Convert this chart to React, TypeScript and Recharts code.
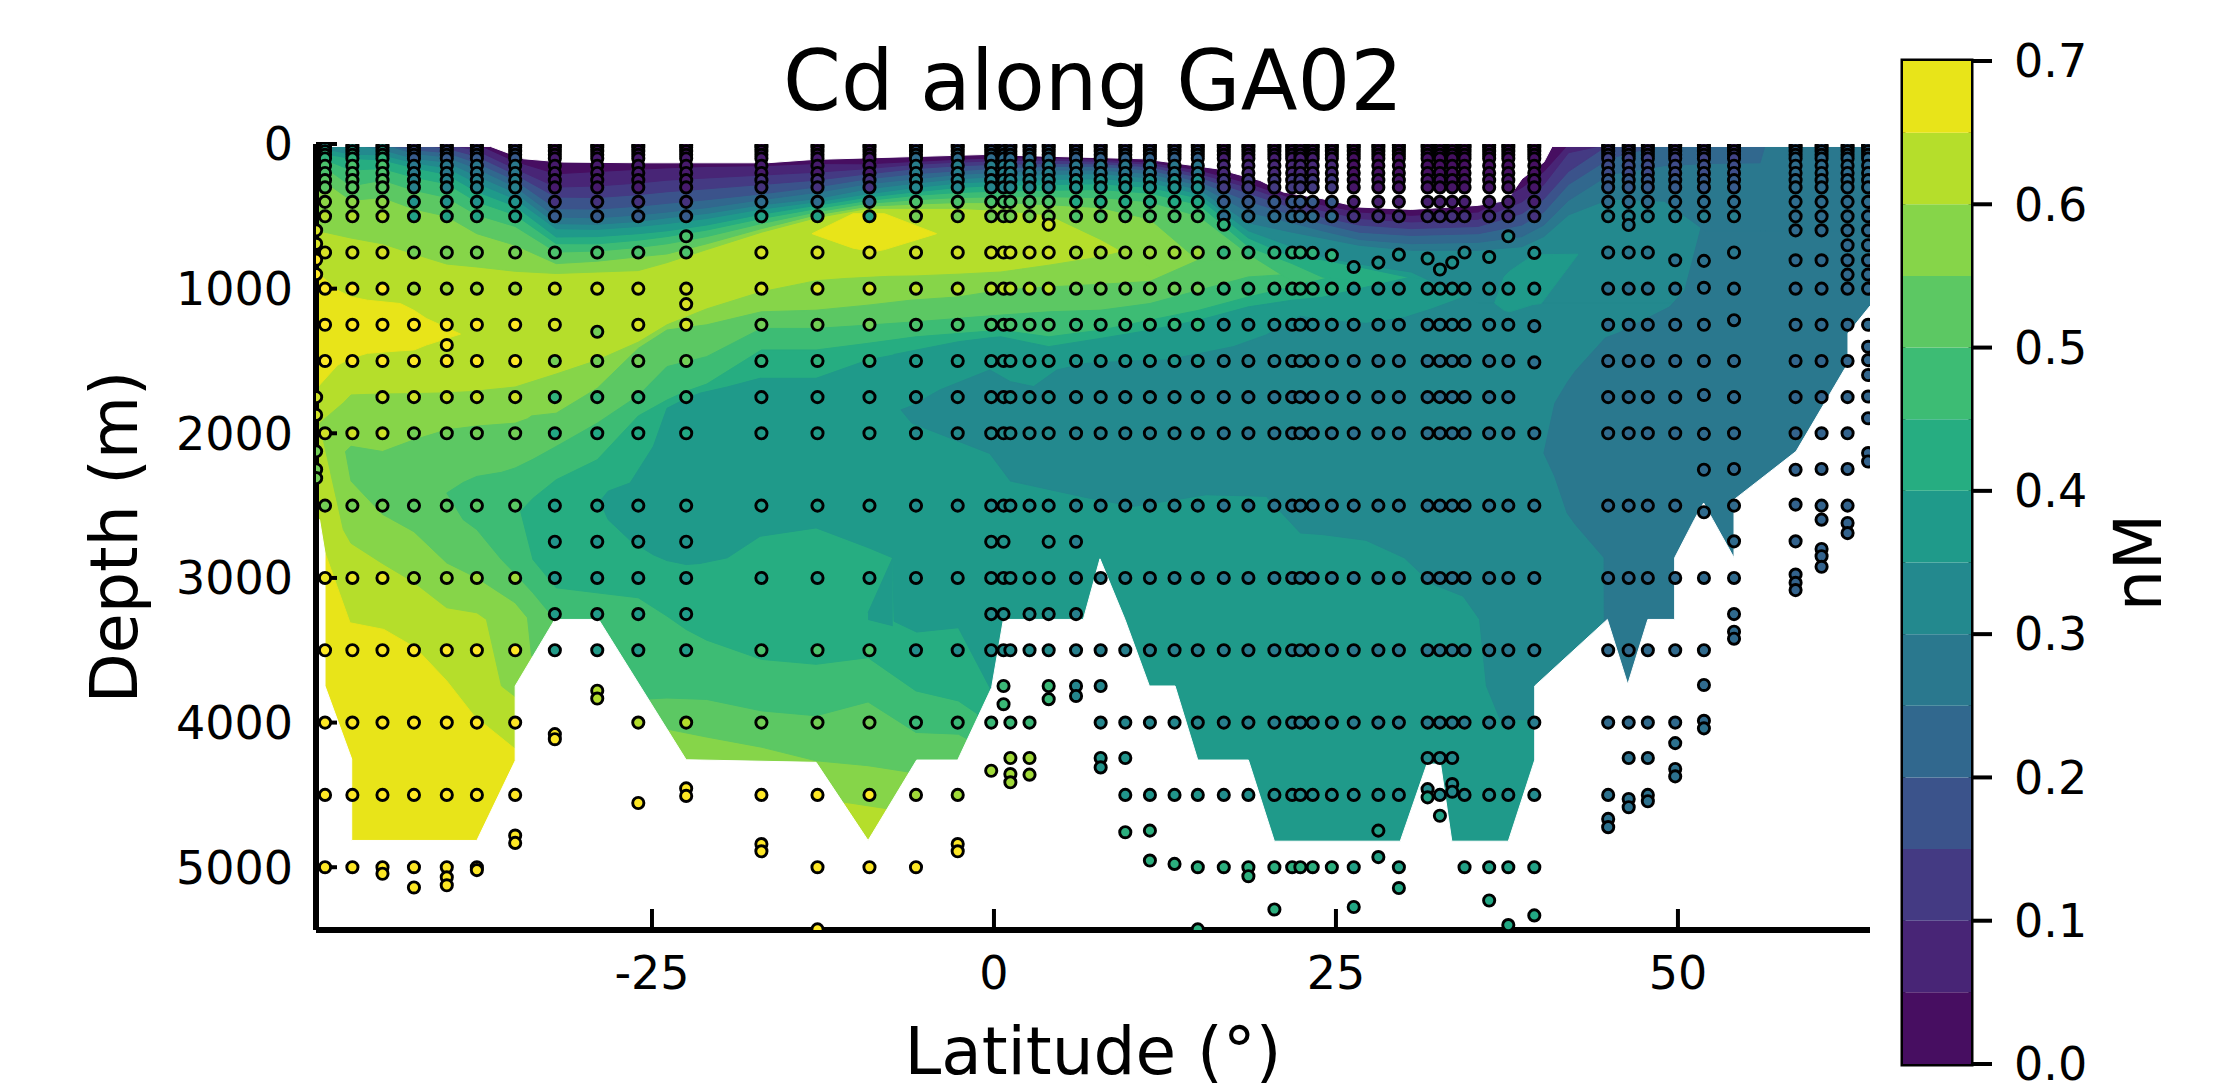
import { Area, Bar, BarChart, ComposedChart, Label, ReferenceArea, Scatter, XAxis, YAxis } from "recharts";

type Row = [number, number, number];

const FONT = "DejaVu Sans";
const LAT_DOMAIN = [-49.56, 64.04];
const MAX_DEPTH = 5434;

const latTicks = [-25, 0, 25, 50];
const depthTicks = [0, 1000, 2000, 3000, 4000, 5000];
const cdTicks = [0, 0.1, 0.2, 0.3, 0.4, 0.5, 0.6, 0.7];

// colours of the 14 contour bands, 0.00-0.05 up to 0.65-0.70
const bandColors = [
  "#470e61", "#482576", "#443a83", "#3b538b", "#31688e", "#2a788e", "#23898e",
  "#1f9a8a", "#26ad81", "#3dbc74", "#5cc863", "#86d549", "#b5de2b", "#e8e419",
];

// depth of the contours seen from the surface: lat, then 0.05, 0.10 ... 0.60
const surfaceContours = [
  [-49.4, 0, 0, 0, 0, 0, 0, 25, 60, 90, 130, 230, 600],
  [-47, 0, 0, 0, 0, 0, 0, 70, 100, 180, 290, 390, 650],
  [-44.7, 0, 0, 0, 0, 0, 40, 75, 110, 170, 250, 370, 690],
  [-42.4, 0, 0, 0, 40, 65, 100, 130, 165, 230, 320, 450, 760],
  [-40, 0, 0, 30, 60, 90, 125, 165, 210, 275, 370, 500, 830],
  [-37.8, 0, 45, 85, 130, 170, 220, 270, 330, 400, 490, 620, 850],
  [-35, 120, 170, 210, 250, 295, 335, 380, 430, 490, 570, 700, 880],
  [-32, 206, 298, 367, 447, 505, 551, 586, 643, 689, 747, 827, 895],
  [-29, 190, 290, 370, 450, 510, 555, 590, 640, 690, 740, 810, 885],
  [-26, 175, 270, 350, 430, 490, 535, 570, 620, 665, 715, 780, 875],
  [-23.9, 165, 250, 330, 410, 470, 510, 550, 600, 640, 690, 760, 820],
  [-21, 155, 235, 310, 385, 440, 480, 515, 560, 595, 640, 690, 730],
  [-17, 150, 215, 280, 345, 385, 420, 450, 485, 515, 550, 585, 610],
  [-13, 135, 195, 250, 298, 335, 378, 400, 424, 447, 470, 490, 510],
  [-9.2, 137, 170, 206, 240, 275, 310, 344, 367, 390, 410, 430, 445],
  [-5.7, 120, 140, 170, 205, 240, 270, 300, 330, 355, 385, 415, 445],
  [-2.6, 105, 125, 150, 185, 210, 240, 270, 300, 335, 370, 405, 445],
  [0.5, 95, 115, 140, 165, 195, 225, 255, 285, 325, 365, 405, 460],
  [4, 95, 112, 135, 155, 180, 210, 245, 280, 320, 365, 420, 490],
  [7.8, 105, 120, 137, 155, 180, 205, 240, 275, 315, 370, 440, 660],
  [11.4, 125, 140, 158, 180, 205, 235, 265, 300, 340, 400, 520, 850],
  [15, 180, 205, 230, 260, 285, 315, 345, 375, 420, 500, 810, 850],
  [18.6, 270, 300, 340, 395, 470, 545, 600, 650, 710, 760, 800, 850],
  [21.8, 375, 405, 440, 490, 545, 610, 710, 781, 827, 950, 800, 850],
  [24, 420, 460, 505, 550, 600, 650, 780, 800, 920, 950, 800, 850],
  [26.7, 470, 515, 560, 610, 660, 700, 830, 850, 950, 950, 800, 850],
  [30.5, 493, 539, 585, 632, 689, 735, 885, 925, 950, 950, 800, 850],
  [35.4, 470, 520, 570, 620, 680, 735, 1100, 950, 950, 950, 800, 850],
  [38.6, 300, 400, 480, 560, 640, 710, 1100, 950, 950, 950, 800, 850],
  [40.2, 190, 280, 380, 470, 560, 640, 1100, 950, 950, 950, 800, 850],
  [42, 0, 60, 190, 280, 390, 490, 1100, 950, 950, 950, 800, 850],
  [45, 0, 0, 0, 100, 210, 380, 1100, 950, 950, 950, 800, 850],
  [49, 0, 0, 0, 0, 150, 395, 1100, 950, 950, 950, 800, 850],
  [52, 0, 0, 0, 0, 135, 600, 1100, 950, 950, 950, 800, 850],
  [56, 0, 0, 0, 0, 130, 600, 1100, 950, 950, 950, 800, 850],
  [56.4, 0, 0, 0, 0, 0, 600, 1100, 950, 950, 950, 800, 850],
  [64.04, 0, 0, 0, 0, 0, 600, 1100, 950, 950, 950, 800, 850],
];

// deep water lobes under each contour: lat, top depth, bottom depth
const deep60: Row[] = [
  [-49.3, 1930, 1930], [-47.56, 1790, 2666], [-47, 1735, 2760], [-44.7, 1728, 2900], [-42.4, 1726, 3030],
  [-40, 1720, 3206], [-37.8, 1710, 3241], [-37.1, 1700, 3287], [-36, 1690, 3747], [-35, 1680, 3820],
  [-32, 1590, 4400], [-29, 1495, 4500], [-26, 1370, 4500], [-23.9, 1250, 4500], [-21, 1140, 4500],
  [-17, 1022, 4510], [-13, 945, 4530], [-10.9, 930, 4551], [-7.7, 915, 4597], [-5.7, 912, 4620],
  [-2.6, 900, 5434], [0.5, 885, 5434], [4, 838, 5434], [7.8, 781, 5434], [11.4, 700, 5434], [64.04, 700, 5434],
];
const deep55: Row[] = [
  [-47.4, 2126, 2126], [-47, 2090, 2330], [-44.7, 2126, 2560], [-42.4, 2045, 2680], [-40, 1976, 2896],
  [-37.8, 1950, 2999], [-35, 1930, 3172], [-34.1, 1900, 3275], [-33.8, 1880, 3540], [-32, 1861, 3600],
  [-29, 1689, 3900], [-26, 1413, 4000], [-23.9, 1286, 4045], [-21, 1250, 4100], [-17, 1160, 4170],
  [-13, 1149, 4264], [-9.2, 1114, 4298], [-6.1, 1080, 4344], [-2.6, 1057, 4400], [0.5, 1011, 5434],
  [4, 988, 5434], [7.8, 970, 5434], [11.4, 950, 5434], [15, 800, 5434], [18.6, 700, 5434], [64.04, 700, 5434],
];
const deep50: Row[] = [
  [-40, 2413, 2413], [-38.8, 2340, 2597], [-37.8, 2298, 2666], [-36, 2270, 2873], [-35, 2240, 2970],
  [-33.7, 2180, 3103], [-32, 2091, 3298], [-29, 1930, 3600], [-26, 1740, 3840], [-23.9, 1539, 3830],
  [-21, 1470, 3840], [-17, 1275, 3919], [-13, 1275, 3953], [-9.2, 1252, 3857], [-5.7, 1229, 4068],
  [-2.6, 1206, 4080], [-1.9, 1200, 4115], [0.5, 1183, 5434], [4, 1160, 5434], [7.8, 1149, 5434],
  [11.4, 1103, 5434], [15, 1011, 5434], [18.6, 919, 5434], [21.8, 900, 5434], [64.04, 900, 5434],
];
const deep45: Row[] = [
  [-34.6, 2540, 2540], [-33.7, 2450, 2873], [-32, 2321, 3068], [-29, 2183, 3103], [-26, 1880, 3137],
  [-23.9, 1770, 3264], [-22.5, 1710, 3356], [-21, 1660, 3430], [-17, 1424, 3563], [-13, 1424, 3597],
  [-9.2, 1378, 3551], [-5.7, 1333, 3781], [-2.6, 1310, 3850], [-1.2, 1300, 3940], [0.5, 1287, 5434],
  [4, 1333, 5434], [7.8, 1287, 5434], [11.4, 1218, 5434], [15, 1149, 5434], [18.6, 1057, 5434],
  [21.8, 988, 5434], [25.5, 900, 5434], [64.04, 900, 5434],
];
const deep40: Row[] = [
  [-28.8, 2470, 2470], [-28.2, 2400, 2597], [-26.6, 2344, 2740], [-24.9, 2091, 2840], [-23.9, 1827, 2880],
  [-22.5, 1760, 2907], [-21.5, 1723, 2900], [-19.5, 1680, 2861], [-17.1, 1620, 2712], [-13, 1620, 2654],
  [-9.2, 1493, 2790], [-7.4, 1460, 2861], [-7.3, 1455, 3300], [-5.65, 1424, 3374], [-2.6, 1367, 3344],
  [-0.3, 1340, 3758], [0.5, 1333, 5434], [4, 1401, 5434], [7.8, 1344, 5434], [11.4, 1287, 5434],
  [15, 1218, 5434], [18.6, 1126, 5434], [21.8, 1080, 5434], [24, 1060, 5434], [26.7, 1000, 5434],
  [30.5, 920, 5434], [35.4, 900, 5434], [64.04, 900, 5434],
];
const deep35: Row[] = [
  [-6.8, 1838, 1838], [-6, 1810, 1930], [-3.95, 1700, 2005], [-0.3, 1562, 2140], [1.2, 1643, 2330],
  [2.9, 1677, 2365], [4.6, 1562, 2400], [6.8, 1516, 2445], [10.2, 1500, 2505], [12.6, 1493, 2470],
  [15.5, 1440, 2425], [17.5, 1401, 2430], [19.9, 1320, 2436], [22.4, 1190, 2689], [24, 1220, 2700],
  [27.2, 1240, 2740], [30, 1200, 2861], [32, 1140, 3040], [34.3, 1060, 3126], [35.5, 1040, 3287],
  [36, 1040, 3747], [37, 1000, 3977], [39.5, 1000, 3980], [39.6, 1000, 5434], [64.04, 1000, 5434],
];
const deep30: Row[] = [
  [40.2, 2137, 2137], [41, 1792, 2300], [41.9, 1650, 2551], [42.5, 1570, 2630], [44.6, 1350, 2861],
  [44.7, 1340, 5434], [45.6, 1309, 5434], [49.4, 1126, 5434], [50.5, 1011, 5434], [51.7, 574, 5434],
  [52, 300, 5434], [64.04, 0, 5434],
];

// patches of higher Cd, and the step in the 0.40 contour
const yellowDeep: Row[] = [
  [-49, 2800, 5434], [-47.07, 3310, 5434], [-44.6, 3356, 5434], [-42.3, 3482, 5434], [-40, 3712, 5434],
  [-38, 3954, 5434], [-35, 4183, 5434],
];
const yellowMid: Row[] = [
  [-49.4, 895, 1677], [-48, 1010, 1530], [-47, 1057, 1480], [-45.8, 1080, 1447], [-43.4, 1103, 1430],
  [-42.4, 1150, 1424], [-41.5, 1206, 1390], [-39, 1314, 1314],
];
const yellowUpper: Row[] = [
  [-13.3, 620, 620], [-10.3, 482, 720], [-8.8, 482, 745], [-8, 482, 730], [-4.2, 620, 620],
];
const island35: Row[] = [
  [36.6, 1100, 1100], [37.3, 918, 1150], [37.7, 880, 1160], [39.4, 770, 1110], [40, 765, 1103], [42.7, 762, 762],
];
const notch40: Row[] = [
  [-9.2, 3241, 3287], [-7.4, 2861, 3330],
];

// white: sea floor under the section and the gap above its first samples
const seaFloor: [number, number][] = [
  [-49.56, 2597], [-49.3, 2597], [-48.9, 2827], [-48.9, 3747], [-46.95, 4252], [-46.95, 4815], [-37.8, 4815],
  [-35, 4264], [-35, 3747], [-32.1, 3287], [-28.9, 3287], [-22.5, 4257], [-13, 4275], [-9.2, 4815], [-5.65, 4259],
  [-2.65, 4259], [-0.17, 3758], [0.69, 3287], [6.53, 3287], [7.75, 2868], [9.58, 3287], [11.36, 3747],
  [13.24, 3747], [14.9, 4259], [18.6, 4259], [20.5, 4820], [29.7, 4820], [31.65, 4287], [32.65, 4287],
  [33.47, 4820], [37.6, 4820], [39.53, 4259], [39.53, 3747], [44.84, 3287], [46.33, 3735], [47.8, 3287],
  [49.76, 3287], [49.76, 2861], [51.2, 2597], [51.88, 2482], [52.55, 2597], [54.1, 2861], [54.1, 2459],
  [58.64, 2125], [62.43, 1516], [62.43, 1309], [64.04, 1120],
];
const seaSurface: [number, number][] = [
  [-49.56, 17], [-36.8, 17], [-34.4, 102], [-31.5, 125], [-25.6, 130], [-16.6, 130], [-13.2, 107], [-0.8, 73],
  [10.9, 102], [16.3, 171], [19.45, 252], [21.15, 332], [24, 378], [26.7, 436], [30.5, 452], [35.4, 424],
  [37.5, 390], [38.6, 240], [40.2, 125], [40.8, 17], [64.04, 17],
];

// sampling depths shared by most casts
const surfaceDepths = [10, 25, 50, 75, 100, 150, 200, 250, 300, 400, 500];
const midDepths = [1000, 1250, 1500, 1750, 2000, 2500, 3000];
const floorDepths = [3500, 4000, 4500, 5000];

// casts: lat, depths below the surface set
const casts: [number, number[]][] = [
  [-48.9, [750, 1000, 1250, 1500, 2000, 2500, 3000, ...floorDepths]],
  [-46.9, [750, 1000, 1250, 1500, 2000, 2500, 3000, ...floorDepths]],
  [-44.7, [750, ...midDepths, ...floorDepths, 5045]],
  [-42.4, [750, ...midDepths, ...floorDepths, 5140]],
  [-40, [750, ...midDepths, 1390, ...floorDepths, 5070, 5125]],
  [-37.8, [750, ...midDepths, ...floorDepths, 5020]],
  [-35, [750, ...midDepths, 3500, 4000, 4500, 4781, 4832]],
  [-32.1, [750, ...midDepths, 2750, 3250, 3500, 4080, 4115]],
  [-29, [750, 1000, 1298, 1500, 1750, 2000, 2500, 2750, 3000, 3250, 3500, 3780, 3834]],
  [-26, [750, ...midDepths, 2750, 3250, 3500, 4000, 4556]],
  [-22.5, [638, 750, 1107, ...midDepths, 2750, 3250, 3500, 4000, 4455, 4507]],
  [-17, [750, ...midDepths, 3500, 4000, 4500, 4840, 4890]],
  [-12.9, [750, ...midDepths, ...floorDepths, 5430]],
  [-9.1, [750, ...midDepths, ...floorDepths]],
  [-5.7, [750, ...midDepths, ...floorDepths]],
  [-2.65, [750, ...midDepths, 3500, 4000, 4500, 4840, 4890]],
  [-0.2, [750, ...midDepths, 2750, 3250, 3500, 4000, 4333]],
  [0.7, [750, ...midDepths, 2750, 3250, 3500, 3747, 3873]],
  [1.2, [750, ...midDepths, 3500, 4000, 4245, 4356, 4413]],
  [2.6, [750, ...midDepths, 3250, 3500, 4000, 4245, 4360]],
  [4, [558, 750, ...midDepths, 2750, 3250, 3500, 3747, 3838]],
  [6, [750, ...midDepths, 2750, 3250, 3500, 3747, 3816]],
  [7.8, [750, ...midDepths, 3500, 3747, 4000, 4245, 4310]],
  [9.6, [750, ...midDepths, 3500, 4000, 4245, 4500, 4758]],
  [11.4, [750, ...midDepths, 3500, 4000, 4500, 4747, 4954]],
  [13.2, [750, ...midDepths, 3500, 4000, 4500, 4977]],
  [14.9, [750, ...midDepths, ...floorDepths, 5430]],
  [16.8, [558, 750, ...midDepths, ...floorDepths]],
  [18.6, [750, ...midDepths, ...floorDepths, 5062]],
  [20.5, [750, ...midDepths, ...floorDepths, 5292]],
  [21.8, [750, ...midDepths, ...floorDepths]],
  [22.4, [750, ...midDepths, ...floorDepths]],
  [23.3, [753, ...midDepths, ...floorDepths]],
  [24.7, [769, ...midDepths, ...floorDepths]],
  [26.3, [850, ...midDepths, ...floorDepths, 5275]],
  [28.1, [820, ...midDepths, 3500, 4000, 4500, 4747, 4930]],
  [29.6, [765, ...midDepths, ...floorDepths, 5144]],
  [31.7, [792, ...midDepths, 3500, 4000, 4245, 4460, 4517]],
  [32.6, [868, ...midDepths, 3500, 4000, 4245, 4500, 4644]],
  [33.5, [820, ...midDepths, 3500, 4000, 4245, 4425, 4478]],
  [34.4, [750, ...midDepths, ...floorDepths]],
  [36.2, [781, ...midDepths, ...floorDepths, 5230]],
  [37.6, [638, ...midDepths, ...floorDepths, 5400]],
  [39.5, [753, 1000, 1259, 1510, 2000, 2500, 3000, ...floorDepths, 5333]],
  [44.9, [750, ...midDepths, 3500, 4000, 4500, 4666, 4723]],
  [46.4, [560, 750, ...midDepths, 3500, 4000, 4245, 4528, 4585]],
  [47.8, [750, ...midDepths, 3500, 4000, 4245, 4500, 4544]],
  [49.8, [804, ...midDepths, 3500, 4000, 4142, 4321, 4372]],
  [51.9, [808, 994, 1250, 1500, 1735, 2004, 2252, 2546, 3000, 3500, 3740, 3988, 4040]],
  [54.1, [750, 1000, 1218, 1500, 1750, 2000, 2247, 2500, 2747, 3000, 3250, 3372, 3420]],
  [58.6, [597, 804, 1000, 1250, 1500, 1750, 2000, 2252, 2493, 2747, 2977, 3034, 3084]],
  [60.5, [597, 804, 1000, 1250, 1500, 1750, 2000, 2247, 2500, 2597, 2800, 2850, 2923]],
  [62.4, [597, 700, 804, 903, 1000, 1250, 1500, 1750, 2000, 2247, 2500, 2620, 2690]],
  [63.9, [597, 700, 804, 903, 1000, 1250, 1402, 1494, 1597, 1746, 1896, 2137, 2195]],
];
// cast on the left edge of the plot, no surface set
const edgeCast = [597, 690, 800, 900, 1750, 1873, 2125, 2250, 2310];
const edgeLat = -49.55;

// measured Cd read by region, rows by lat zone, columns by depth
const zoneLats = [-43, -33, -20, -8, 5, 15, 25, 42, 55, 70];
const zoneDepths = [25, 50, 100, 200, 300, 400, 500, 750, 1000, 1250, 1500, 1750, 2000, 2500, 3000, 3500, 4000, 4500, 5000, 5500];
const zoneCd = [
  [0.35, 0.4, 0.45, 0.5, 0.52, 0.58, 0.62, 0.66, 0.7, 0.7, 0.7, 0.65, 0.65, 0.55, 0.68, 0.7, 0.7, 0.7, 0.7, 0.7],
  [0.1, 0.15, 0.2, 0.28, 0.3, 0.35, 0.4, 0.55, 0.6, 0.7, 0.7, 0.65, 0.55, 0.52, 0.6, 0.7, 0.7, 0.7, 0.7, 0.7],
  [0.03, 0.03, 0.05, 0.05, 0.05, 0.1, 0.2, 0.5, 0.65, 0.66, 0.55, 0.45, 0.42, 0.38, 0.36, 0.38, 0.62, 0.7, 0.7, 0.7],
  [0.03, 0.03, 0.05, 0.05, 0.1, 0.25, 0.4, 0.66, 0.66, 0.55, 0.45, 0.38, 0.38, 0.38, 0.38, 0.5, 0.55, 0.7, 0.7, 0.7],
  [0.12, 0.2, 0.25, 0.3, 0.32, 0.5, 0.55, 0.65, 0.63, 0.5, 0.38, 0.34, 0.33, 0.34, 0.36, 0.34, 0.47, 0.6, 0.7, 0.7],
  [0.1, 0.15, 0.22, 0.28, 0.35, 0.42, 0.5, 0.6, 0.55, 0.46, 0.36, 0.31, 0.3, 0.3, 0.3, 0.3, 0.32, 0.36, 0.44, 0.44],
  [0.03, 0.04, 0.06, 0.08, 0.12, 0.2, 0.25, 0.45, 0.45, 0.32, 0.3, 0.27, 0.27, 0.27, 0.28, 0.29, 0.3, 0.34, 0.44, 0.44],
  [0.02, 0.02, 0.03, 0.03, 0.04, 0.06, 0.1, 0.33, 0.35, 0.3, 0.27, 0.26, 0.26, 0.27, 0.27, 0.28, 0.29, 0.33, 0.4, 0.42],
  [0.08, 0.1, 0.14, 0.16, 0.2, 0.25, 0.3, 0.28, 0.26, 0.25, 0.24, 0.24, 0.24, 0.24, 0.24, 0.24, 0.24, 0.26, 0.26, 0.26],
  [0.2, 0.22, 0.24, 0.25, 0.25, 0.25, 0.25, 0.24, 0.24, 0.24, 0.23, 0.23, 0.22, 0.22, 0.22, 0.22, 0.22, 0.22, 0.22, 0.22],
];

const viridisStops = [
  [68, 1, 84], [72, 36, 117], [65, 68, 135], [53, 95, 141], [42, 120, 142], [33, 145, 140],
  [34, 168, 132], [68, 191, 112], [122, 209, 81], [189, 223, 38], [253, 231, 37],
];

function viridis(cd: number) {
  const t = Math.min(1, Math.max(0, cd / 0.7)) * (viridisStops.length - 1);
  const i = Math.min(viridisStops.length - 2, Math.floor(t));
  const c = viridisStops[i].map((v, k) => Math.round(v + (viridisStops[i + 1][k] - v) * (t - i)));
  return `rgb(${c[0]},${c[1]},${c[2]})`;
}

function sampleColor(lat: number, depth: number) {
  const z = zoneLats.findIndex((l) => lat < l);
  const d = zoneDepths.findIndex((v) => depth <= v);
  return viridis(zoneCd[z][d]);
}

const samples = [
  ...edgeCast.map((depth) => ({ lat: edgeLat, depth, fill: sampleColor(edgeLat, depth) })),
  ...casts.flatMap(([lat, deep]) =>
    [...surfaceDepths, ...deep].map((depth) => ({ lat, depth, fill: sampleColor(lat, depth) })),
  ),
];

const toRange = (rows: Row[]) => rows.map(([lat, top, bottom]) => ({ lat, range: [top, bottom] }));
const surfaceLobe = (level: number) =>
  surfaceContours.map((r) => ({ lat: r[0], range: [0, r[level + 1]] }));

// painted from high Cd to low, each layer covers everything below its contour
const deepByLevel: Record<number, Row[]> = {
  11: deep60, 10: deep55, 9: deep50, 8: deep45, 7: deep40, 6: deep35, 5: deep30,
};
const layers: { key: string; color: string; data: { lat: number; range: number[] }[] }[] = [
  { key: "base", color: bandColors[12], data: toRange([[-49.56, 0, MAX_DEPTH], [64.04, 0, MAX_DEPTH]]) },
  { key: "yellowDeep", color: bandColors[13], data: toRange(yellowDeep) },
  { key: "yellowMid", color: bandColors[13], data: toRange(yellowMid) },
  { key: "yellowUpper", color: bandColors[13], data: toRange(yellowUpper) },
];
for (let level = 11; level >= 0; level--) {
  if (deepByLevel[level]) {
    layers.push({ key: `deep${level}`, color: bandColors[level], data: toRange(deepByLevel[level]) });
  }
  layers.push({ key: `surface${level}`, color: bandColors[level], data: surfaceLobe(level) });
  if (level === 7) layers.push({ key: "notch40", color: bandColors[7], data: toRange(notch40) });
  if (level === 6) layers.push({ key: "island35", color: bandColors[7], data: toRange(island35) });
}
layers.push({ key: "floor", color: "#ffffff", data: seaFloor.map(([lat, d]) => ({ lat, range: [d, MAX_DEPTH] })) });
layers.push({ key: "gap", color: "#ffffff", data: seaSurface.map(([lat, d]) => ({ lat, range: [0, d] })) });

const colorbarRow = [Object.fromEntries(bandColors.map((_, i) => [`band${i}`, 0.05]))];

const Dot = (props: any) => (
  <circle cx={props.cx} cy={props.cy} r={5.6} fill={props.payload.fill} stroke="#000" strokeWidth={2.9} />
);

const tickStyle = { fontFamily: FONT, fontSize: 46, fill: "#000" };

export default function App() {
  return (
    <div style={{ position: "absolute", left: 0, top: 0, width: 2230, height: 1091, background: "#fff" }}>
      <ComposedChart
        width={2230}
        height={1091}
        margin={{ left: 315, top: 144, right: 360, bottom: 160 }}
        style={{ position: "absolute", left: 0, top: 0 }}
      >
        <XAxis
          type="number"
          dataKey="lat"
          domain={LAT_DOMAIN}
          ticks={latTicks}
          allowDataOverflow
          height={1}
          tick={tickStyle}
          tickSize={-21}
          tickMargin={47}
          tickLine={{ stroke: "#000", strokeWidth: 4 }}
          axisLine={{ stroke: "#000", strokeWidth: 6 }}
          interval={0}
        >
          <Label value="Latitude (°)" position="bottom" offset={96} style={{ fontFamily: FONT, fontSize: 66, fill: "#000" }} />
        </XAxis>
        <YAxis
          type="number"
          dataKey="depth"
          domain={[0, MAX_DEPTH]}
          reversed
          ticks={depthTicks}
          allowDataOverflow
          width={1}
          tick={tickStyle}
          tickSize={-21}
          tickMargin={44}
          tickLine={{ stroke: "#000", strokeWidth: 4 }}
          axisLine={{ stroke: "#000", strokeWidth: 6 }}
          interval={0}
        >
          <Label value="Depth (m)" angle={-90} position="left" offset={201} style={{ fontFamily: FONT, fontSize: 65, fill: "#000", textAnchor: "middle" }} />
        </YAxis>
        {layers.map((l) => (
          <Area
            key={l.key}
            data={l.data}
            dataKey="range"
            type="linear"
            fill={l.color}
            fillOpacity={1}
            stroke={l.color}
            strokeWidth={1}
            dot={false}
            activeDot={false}
            isAnimationActive={false}
          />
        ))}
        <Scatter data={samples} shape={Dot} isAnimationActive={false} />
        <text x={1093} y={110} textAnchor="middle" fontFamily={FONT} fontSize={83} fill="#000">
          Cd along GA02
        </text>
      </ComposedChart>
      <BarChart
        width={327}
        height={1091}
        data={colorbarRow}
        barCategoryGap={0}
        margin={{ left: 3, top: 61, right: 255, bottom: 27 }}
        style={{ position: "absolute", left: 1900, top: 0 }}
      >
        <XAxis hide />
        <YAxis
          orientation="right"
          type="number"
          domain={[0, 0.7]}
          ticks={cdTicks}
          width={1}
          interval={0}
          tick={tickStyle}
          tickFormatter={(v: number) => v.toFixed(1)}
          tickSize={21}
          tickMargin={22}
          tickLine={{ stroke: "#000", strokeWidth: 4 }}
          axisLine={false}
        >
          <Label value="nM" angle={-90} position="right" offset={166} style={{ fontFamily: FONT, fontSize: 65, fill: "#000", textAnchor: "middle" }} />
        </YAxis>
        {bandColors.map((c, i) => (
          <Bar key={c} dataKey={`band${i}`} stackId="cd" fill={c} isAnimationActive={false} />
        ))}
        <ReferenceArea y1={0} y2={0.7} fill="none" stroke="#000" strokeWidth={5} ifOverflow="visible" />
      </BarChart>
    </div>
  );
}
